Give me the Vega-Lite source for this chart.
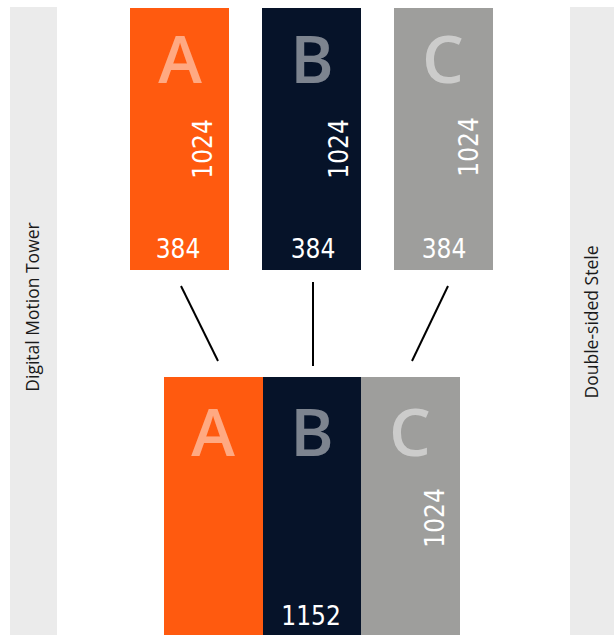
{
  "$schema": "https://vega.github.io/schema/vega-lite/v6.json",
  "width": 614,
  "height": 635,
  "padding": 0,
  "autosize": {"type": "none"},
  "background": "white",
  "config": {"view": {"stroke": null}},
  "datasets": {
    "rects": [
      {"part": "band", "x": 10, "x2": 57, "y": 7, "y2": 635},
      {"part": "band", "x": 570, "x2": 614, "y": 7, "y2": 635},
      {"part": "A", "x": 130, "x2": 229, "y": 8, "y2": 270},
      {"part": "B", "x": 262, "x2": 361, "y": 8, "y2": 270},
      {"part": "C", "x": 394, "x2": 493, "y": 8, "y2": 270},
      {"part": "A", "x": 164, "x2": 263, "y": 377, "y2": 635},
      {"part": "B", "x": 263, "x2": 361, "y": 377, "y2": 635},
      {"part": "C", "x": 361, "x2": 460, "y": 377, "y2": 635}
    ],
    "links": [
      {"x": 181, "y": 286, "x2": 218, "y2": 361},
      {"x": 313, "y": 282, "x2": 313, "y2": 366},
      {"x": 448, "y": 286, "x2": 412, "y2": 361}
    ],
    "letters": [
      {"label": "A", "x": 180, "y": 83},
      {"label": "B", "x": 312, "y": 83},
      {"label": "C", "x": 443, "y": 83},
      {"label": "A", "x": 213, "y": 456},
      {"label": "B", "x": 312, "y": 456},
      {"label": "C", "x": 410, "y": 456}
    ],
    "flat": [
      {"label": "384", "x": 178, "y": 258},
      {"label": "384", "x": 313, "y": 258},
      {"label": "384", "x": 444, "y": 258},
      {"label": "1152", "x": 311, "y": 625}
    ],
    "upright": [
      {"label": "1024", "x": 204, "y": 149},
      {"label": "1024", "x": 340, "y": 149},
      {"label": "1024", "x": 470, "y": 147},
      {"label": "1024", "x": 436, "y": 518}
    ],
    "side": [
      {"label": "Digital Motion Tower", "x": 34, "y": 307},
      {"label": "Double-sided Stele", "x": 593, "y": 322}
    ]
  },
  "layer": [
    {
      "data": {"name": "rects"},
      "mark": {"type": "rect"},
      "encoding": {
        "x": {"field": "x", "type": "quantitative", "scale": {"domain": [0, 614], "nice": false, "zero": false}, "axis": null},
        "x2": {"field": "x2"},
        "y": {"field": "y", "type": "quantitative", "scale": {"domain": [0, 635], "nice": false, "zero": false, "reverse": true}, "axis": null},
        "y2": {"field": "y2"},
        "color": {"field": "part", "type": "nominal", "legend": null,
          "scale": {"domain": ["band", "A", "B", "C"], "range": ["#ebebeb", "#ff5a0f", "#061329", "#9e9e9c"]}}
      }
    },
    {
      "data": {"name": "links"},
      "mark": {"type": "rule", "color": "#000000", "strokeWidth": 2},
      "encoding": {
        "x": {"field": "x", "type": "quantitative"},
        "y": {"field": "y", "type": "quantitative"},
        "x2": {"field": "x2"},
        "y2": {"field": "y2"}
      }
    },
    {
      "data": {"name": "letters"},
      "mark": {"type": "text", "font": "Open Sans", "fontWeight": 600, "fontSize": 66, "color": "#ffffff", "opacity": 0.48, "align": "center", "baseline": "alphabetic"},
      "encoding": {
        "x": {"field": "x", "type": "quantitative"},
        "y": {"field": "y", "type": "quantitative"},
        "text": {"field": "label"}
      }
    },
    {
      "data": {"name": "flat"},
      "mark": {"type": "text", "font": "'DejaVu Sans Condensed', Roboto", "fontSize": 26, "color": "#ffffff", "align": "center", "baseline": "alphabetic"},
      "encoding": {
        "x": {"field": "x", "type": "quantitative"},
        "y": {"field": "y", "type": "quantitative"},
        "text": {"field": "label"}
      }
    },
    {
      "data": {"name": "upright"},
      "mark": {"type": "text", "font": "'DejaVu Sans Condensed', Roboto", "fontSize": 26, "color": "#ffffff", "align": "center", "baseline": "middle", "angle": 270},
      "encoding": {
        "x": {"field": "x", "type": "quantitative"},
        "y": {"field": "y", "type": "quantitative"},
        "text": {"field": "label"}
      }
    },
    {
      "data": {"name": "side"},
      "mark": {"type": "text", "font": "Open Sans", "fontSize": 17.5, "color": "#1a1a1a", "align": "center", "baseline": "middle", "angle": 270},
      "encoding": {
        "x": {"field": "x", "type": "quantitative"},
        "y": {"field": "y", "type": "quantitative"},
        "text": {"field": "label"}
      }
    }
  ]
}
